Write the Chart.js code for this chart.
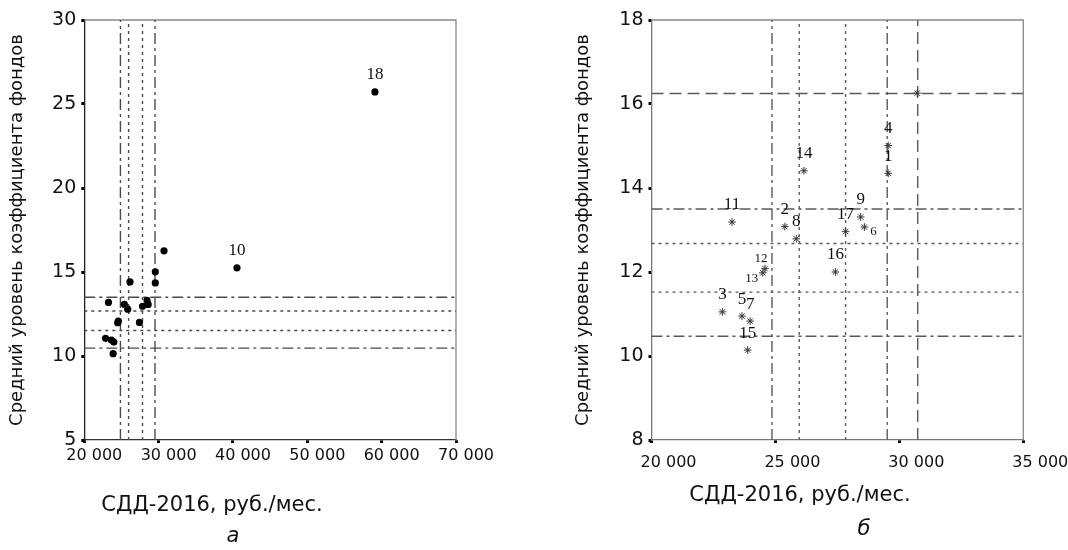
<!DOCTYPE html>
<html><head><meta charset="utf-8">
<script src="https://cdn.jsdelivr.net/npm/chart.js@4.4.1/dist/chart.umd.min.js"></script>
<style>
html,body{margin:0;padding:0;background:#fff;width:1068px;height:550px;overflow:hidden;}
#wrap{position:relative;width:1068px;height:550px;}
canvas{position:absolute;top:0;}
.cap{position:absolute;font-family:"DejaVu Sans",sans-serif;color:#111;white-space:nowrap;transform:translate(-50%,-50%);line-height:1;}
.sub{font-style:italic;font-size:21px;}
</style></head><body>
<div id="wrap">
<canvas id="cA" width="540" height="550" style="left:0"></canvas>
<canvas id="cB" width="508" height="550" style="left:560px"></canvas>
<div class="cap" id="tA" style="left:212px;top:504px;font-size:21px"></div>
<div class="cap" id="tB" style="left:800px;top:494px;font-size:21px"></div>
<div class="cap sub" style="left:233px;top:535px">а</div>
<div class="cap sub" style="left:864px;top:528px">б</div>
</div>
<script>
// ---- data ----
const regionIds = ['1','2','3','4','5','6','7','8','9','10','11','12','13','14','15','16','17','18',''];
const sddIncome = [29550,25380,22860,29550,23650,28590,23980,25840,28440,40540,23250,24580,24490,26150,23880,27420,27830,59100,30720];
const fundCoef  = [14.35,13.08,11.05,15.01,10.95,13.07,10.83,12.79,13.31,15.25,13.19,12.08,11.98,14.41,10.14,12.00,12.96,25.72,16.26];
const dashDotX = [24860, 29510];
const dottedX  = [25960, 27830];
const dashedX  = [30740];
const dashDotY = [13.5, 10.47];
const dottedY  = [12.68, 11.52];
const dashedY  = [16.25];
const xTicksA = [20000,30000,40000,50000,60000,70000];
const yTicksA = [5,10,15,20,25,30];
const xTicksB = [20000,25000,30000,35000];
const yTicksB = [8,10,12,14,16,18];
const labeledA = ['10','18'];
const xTitle = 'СДД-2016, руб./мес.';
const yTitle = 'Средний уровень коэффициента фондов';

document.getElementById('tA').textContent = xTitle;
document.getElementById('tB').textContent = xTitle;

// ---- helpers ----
const fmt = v => String(v).replace(/\B(?=(\d{3})+(?!\d))/g, ' ');
const DASH = {dashdot:[11,4,3,4], dotted:[3,4], dashed:[12,6]};
function refLines(xs, ys, kind, xr, yr, color, width){
  const out = [];
  const base = {type:'scatter', showLine:true, borderColor:color, borderWidth:width,
                borderDash:DASH[kind], pointRadius:0, fill:false, order:2};
  xs.forEach(v => out.push(Object.assign({data:[{x:v,y:yr[0]},{x:v,y:yr[1]}]}, base)));
  ys.forEach(v => out.push(Object.assign({data:[{x:xr[0],y:v},{x:xr[1],y:v}]}, base)));
  return out;
}
const frame = color => ({
  id:'frame',
  beforeDatasetsDraw(chart){
    const {ctx, chartArea:a} = chart;
    ctx.save(); ctx.strokeStyle = color; ctx.lineWidth = 1.3;
    ctx.beginPath(); ctx.moveTo(a.left, a.top); ctx.lineTo(a.right, a.top); ctx.lineTo(a.right, a.bottom); ctx.stroke();
    ctx.restore();
  }
});
function labelPlugin(showIds, placement){
  return {
    id:'pointLabels',
    afterDatasetsDraw(chart){
      const meta = chart.getDatasetMeta(0), a = chart.chartArea, ctx = chart.ctx;
      ctx.save();
      ctx.fillStyle = '#111'; ctx.textAlign = 'center'; ctx.textBaseline = 'middle';
      meta.data.forEach((el, i) => {
        const id = regionIds[i];
        if (!id || (showIds && !showIds.includes(id))) return;
        if (el.x < a.left || el.x > a.right || el.y < a.top || el.y > a.bottom) return;
        const p = placement[id] || placement.default;
        ctx.font = p[2] + 'px "Liberation Serif", serif';
        ctx.fillText(id, el.x + p[0], el.y + p[1]);
      });
      ctx.restore();
    }
  };
}
function axisOpts(ticksArr, fontSize, pad, offset, fixed, horiz, borderColor){
  const o = {
    type:'linear', min:ticksArr[0], max:ticksArr[ticksArr.length-1],
    afterBuildTicks: s => { s.ticks = ticksArr.map(v => ({value:v})); },
    grid:{display:true, drawOnChartArea:false, drawTicks:true, tickLength:3, tickWidth:3, tickColor:'#000'},
    border:{display:true, color:borderColor, width:1.3},
    ticks:{font:{family:'DejaVu Sans', size:fontSize}, color:'#111', padding:pad, autoSkip:false, maxRotation:0,
           callback: v => fmt(v)}
  };
  if (horiz) { o.ticks.labelOffset = offset; o.afterFit = s => { s.height = fixed; }; }
  else { o.afterFit = s => { s.width = fixed; }; }
  return o;
}
const points = () => sddIncome.map((x, i) => ({x, y:fundCoef[i]}));

// ---- chart а ----
new Chart(document.getElementById('cA'), {
  type:'scatter',
  data:{datasets:[
    {data:points(), pointStyle:'circle', pointRadius:3.6, backgroundColor:'#000', borderColor:'#000', borderWidth:0, order:0},
    ...refLines(dashDotX, dashDotY, 'dashdot', [xTicksA[0], xTicksA[xTicksA.length-1]], [yTicksA[0], yTicksA[yTicksA.length-1]], '#4a4a4a', 1.4),
    ...refLines(dottedX, dottedY, 'dotted', [xTicksA[0], xTicksA[xTicksA.length-1]], [yTicksA[0], yTicksA[yTicksA.length-1]], '#4a4a4a', 1.4)
  ]},
  options:{
    responsive:false, animation:false, devicePixelRatio:1,
    layout:{padding:{left:0, top:20, right:84, bottom:0}},
    plugins:{legend:{display:false}, tooltip:{enabled:false}},
    scales:{
      x: axisOpts(xTicksA, 16, 3, 10, 110, true, '#333'),
      y: Object.assign(axisOpts(yTicksA, 19, 5, 0, 84.3, false, '#222'),
         {title:{display:true, text:yTitle, color:'#111', font:{family:'DejaVu Sans', size:18}, padding:{top:7, bottom:0}}})
    }
  },
  plugins:[frame('#888'), labelPlugin(labeledA, {default:[0,-17,17]})]
});

// ---- chart б ----
new Chart(document.getElementById('cB'), {
  type:'scatter',
  data:{datasets:[
    {data:points(), pointStyle:'star', pointRadius:3.8, borderColor:'#333', borderWidth:1, backgroundColor:'#333', order:0},
    ...refLines(dashDotX, dashDotY, 'dashdot', [xTicksB[0], xTicksB[xTicksB.length-1]], [yTicksB[0], yTicksB[yTicksB.length-1]], '#5a5a5a', 1.4),
    ...refLines(dottedX, dottedY, 'dotted', [xTicksB[0], xTicksB[xTicksB.length-1]], [yTicksB[0], yTicksB[yTicksB.length-1]], '#5a5a5a', 1.4),
    ...refLines(dashedX, dashedY, 'dashed', [xTicksB[0], xTicksB[xTicksB.length-1]], [yTicksB[0], yTicksB[yTicksB.length-1]], '#5a5a5a', 1.4)
  ]},
  options:{
    responsive:false, animation:false, devicePixelRatio:1,
    layout:{padding:{left:0, top:20, right:44.7, bottom:0}},
    plugins:{legend:{display:false}, tooltip:{enabled:false}},
    scales:{
      x: axisOpts(xTicksB, 16, 10, 17, 110, true, '#777'),
      y: Object.assign(axisOpts(yTicksB, 19, 5, 0, 91.5, false, '#777'),
         {title:{display:true, text:yTitle, color:'#111', font:{family:'DejaVu Sans', size:18}, padding:{top:13, bottom:0}}})
    }
  },
  plugins:[frame('#888'), labelPlugin(null, {default:[0,-17,17], '6':[9,5,13], '12':[-4,-10,13], '13':[-11,6,13]})]
});
</script>
</body></html>
